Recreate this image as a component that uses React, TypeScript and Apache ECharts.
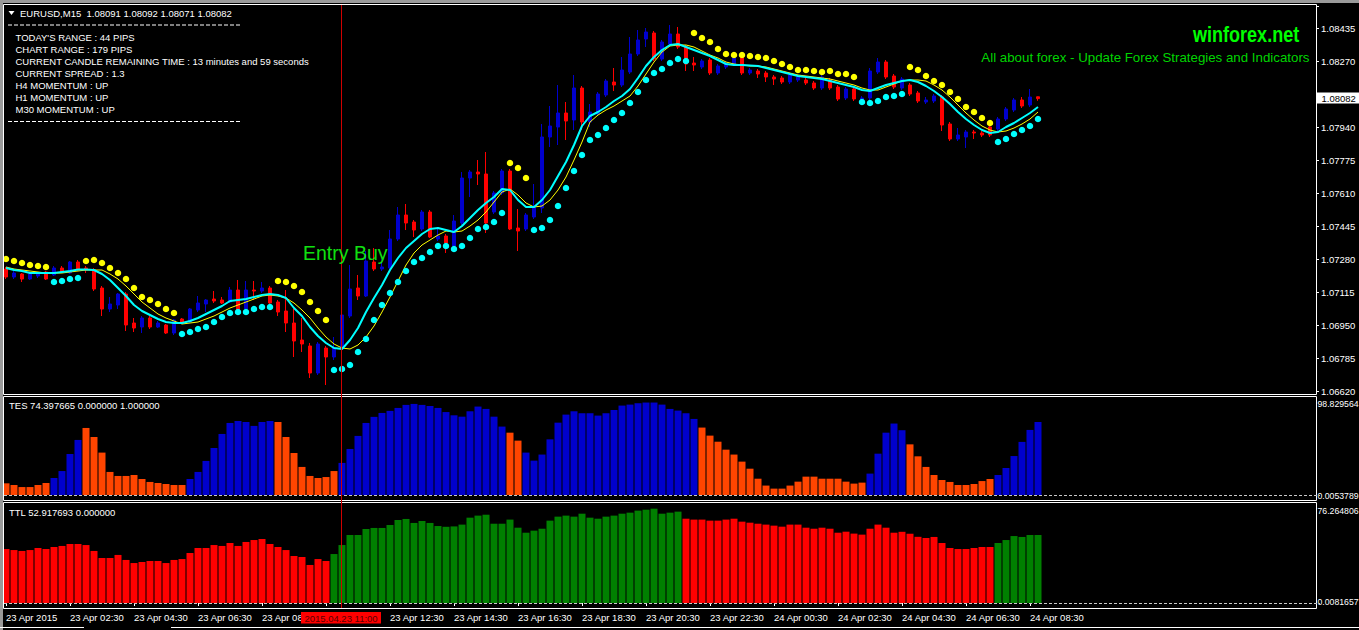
import React, { useEffect, useRef } from 'react';
import * as echarts from 'echarts';

// EURUSD M15, 23 Apr 2015 00:30 -> 24 Apr 2015 08:45 (130 bars)
const openPx = [
  1.07230, 1.07190, 1.07205, 1.07180, 1.07195, 1.07215, 1.07200, 1.07235, 1.07210, 1.07265,
  1.07235, 1.07225, 1.07135, 1.07030, 1.07050, 1.07105, 1.06960, 1.06940, 1.06985, 1.06940,
  1.06950, 1.06910, 1.06980, 1.06965, 1.07025, 1.07055, 1.07080, 1.07075, 1.07065, 1.07125,
  1.07030, 1.07125, 1.07120, 1.07135, 1.07065, 1.07020, 1.06960, 1.06875, 1.06845, 1.06710,
  1.06835, 1.06790, 1.06835, 1.06995, 1.07135, 1.07095, 1.07265, 1.07230, 1.07235, 1.07380,
  1.07500, 1.07465, 1.07430, 1.07515, 1.07380, 1.07395, 1.07345, 1.07460, 1.07685, 1.07715,
  1.07705, 1.07515, 1.07610, 1.07720, 1.07435, 1.07430, 1.07490, 1.07535, 1.07890, 1.07940,
  1.08010, 1.07975, 1.08135, 1.07965, 1.08005, 1.08100, 1.08165, 1.08150, 1.08215, 1.08305,
  1.08380, 1.08410, 1.08280, 1.08355, 1.08405, 1.08340, 1.08260, 1.08240, 1.08275, 1.08210,
  1.08240, 1.08255, 1.08290, 1.08210, 1.08220, 1.08210, 1.08190, 1.08185, 1.08165, 1.08175,
  1.08175, 1.08160, 1.08135, 1.08175, 1.08140, 1.08085, 1.08130, 1.08060, 1.08085, 1.08215,
  1.08265, 1.08195, 1.08135, 1.08150, 1.08110, 1.08065, 1.08070, 1.08090, 1.07955, 1.07880,
  1.07890, 1.07915, 1.07910, 1.07940, 1.07930, 1.07980, 1.08025, 1.08075, 1.08050, 1.08091,
];
const highPx = [
  1.07240, 1.07220, 1.07210, 1.07215, 1.07215, 1.07220, 1.07245, 1.07245, 1.07270, 1.07275,
  1.07245, 1.07235, 1.07145, 1.07090, 1.07110, 1.07115, 1.06985, 1.06995, 1.06995, 1.06970,
  1.06955, 1.06980, 1.06985, 1.07035, 1.07095, 1.07080, 1.07120, 1.07090, 1.07140, 1.07175,
  1.07170, 1.07170, 1.07165, 1.07145, 1.07075, 1.07125, 1.07030, 1.06985, 1.06860, 1.06865,
  1.06845, 1.06890, 1.07010, 1.07250, 1.07200, 1.07320, 1.07335, 1.07290, 1.07425, 1.07540,
  1.07555, 1.07475, 1.07525, 1.07525, 1.07440, 1.07405, 1.07500, 1.07715, 1.07725, 1.07775,
  1.07815, 1.07620, 1.07730, 1.07730, 1.07530, 1.07510, 1.07655, 1.07955, 1.08045, 1.08150,
  1.08065, 1.08200, 1.08145, 1.08055, 1.08115, 1.08180, 1.08235, 1.08290, 1.08390, 1.08425,
  1.08435, 1.08420, 1.08375, 1.08450, 1.08440, 1.08350, 1.08290, 1.08280, 1.08285, 1.08255,
  1.08270, 1.08300, 1.08300, 1.08235, 1.08230, 1.08220, 1.08200, 1.08195, 1.08210, 1.08200,
  1.08185, 1.08170, 1.08200, 1.08185, 1.08150, 1.08140, 1.08140, 1.08095, 1.08235, 1.08285,
  1.08275, 1.08205, 1.08190, 1.08160, 1.08120, 1.08090, 1.08105, 1.08100, 1.07965, 1.07935,
  1.07925, 1.07925, 1.07920, 1.07950, 1.07990, 1.08040, 1.08085, 1.08090, 1.08130, 1.08092,
];
const lowPx = [
  1.07180, 1.07180, 1.07165, 1.07175, 1.07185, 1.07175, 1.07195, 1.07210, 1.07205, 1.07220,
  1.07210, 1.07120, 1.06995, 1.07015, 1.07030, 1.06920, 1.06915, 1.06910, 1.06930, 1.06935,
  1.06905, 1.06900, 1.06955, 1.06960, 1.07015, 1.07015, 1.07060, 1.07055, 1.07060, 1.07020,
  1.07025, 1.07075, 1.07110, 1.07055, 1.06995, 1.06915, 1.06790, 1.06815, 1.06685, 1.06700,
  1.06650, 1.06775, 1.06825, 1.06985, 1.07075, 1.07090, 1.07220, 1.07220, 1.07225, 1.07370,
  1.07425, 1.07390, 1.07420, 1.07385, 1.07370, 1.07310, 1.07335, 1.07450, 1.07590, 1.07650,
  1.07410, 1.07505, 1.07600, 1.07425, 1.07320, 1.07420, 1.07480, 1.07510, 1.07840, 1.07850,
  1.07875, 1.07925, 1.07925, 1.07940, 1.07995, 1.08090, 1.08120, 1.08140, 1.08205, 1.08295,
  1.08340, 1.08270, 1.08270, 1.08345, 1.08330, 1.08220, 1.08220, 1.08230, 1.08200, 1.08200,
  1.08230, 1.08245, 1.08200, 1.08200, 1.08185, 1.08165, 1.08150, 1.08155, 1.08155, 1.08165,
  1.08150, 1.08125, 1.08125, 1.08125, 1.08070, 1.08075, 1.08070, 1.08050, 1.08075, 1.08205,
  1.08180, 1.08130, 1.08125, 1.08095, 1.08060, 1.08055, 1.08060, 1.07920, 1.07870, 1.07870,
  1.07835, 1.07880, 1.07890, 1.07890, 1.07920, 1.07970, 1.08015, 1.08035, 1.08040, 1.08071,
];
const closePx = [
  1.07190, 1.07210, 1.07180, 1.07205, 1.07205, 1.07180, 1.07235, 1.07215, 1.07265, 1.07225,
  1.07225, 1.07130, 1.07030, 1.07055, 1.07105, 1.06950, 1.06935, 1.06985, 1.06940, 1.06960,
  1.06910, 1.06975, 1.06965, 1.07030, 1.07060, 1.07075, 1.07070, 1.07060, 1.07125, 1.07025,
  1.07125, 1.07120, 1.07135, 1.07060, 1.07015, 1.06960, 1.06870, 1.06855, 1.06710, 1.06855,
  1.06790, 1.06835, 1.07000, 1.07130, 1.07095, 1.07270, 1.07230, 1.07240, 1.07380, 1.07500,
  1.07460, 1.07425, 1.07515, 1.07390, 1.07395, 1.07360, 1.07470, 1.07685, 1.07715, 1.07705,
  1.07460, 1.07610, 1.07720, 1.07430, 1.07420, 1.07500, 1.07540, 1.07890, 1.07945, 1.08010,
  1.07970, 1.08135, 1.07965, 1.08015, 1.08105, 1.08170, 1.08150, 1.08225, 1.08305, 1.08375,
  1.08415, 1.08280, 1.08365, 1.08405, 1.08340, 1.08255, 1.08250, 1.08270, 1.08210, 1.08245,
  1.08260, 1.08290, 1.08210, 1.08225, 1.08205, 1.08190, 1.08180, 1.08165, 1.08200, 1.08190,
  1.08160, 1.08135, 1.08190, 1.08135, 1.08080, 1.08130, 1.08080, 1.08085, 1.08220, 1.08265,
  1.08190, 1.08140, 1.08180, 1.08105, 1.08070, 1.08075, 1.08095, 1.07950, 1.07880, 1.07900,
  1.07915, 1.07910, 1.07900, 1.07900, 1.07980, 1.08030, 1.08075, 1.08045, 1.08090, 1.08082,
];

// thick cyan MA and thin yellow MA
const fastMa = [
  1.07235, 1.07225, 1.07220, 1.07210, 1.07210, 1.07210, 1.07210, 1.07215, 1.07220, 1.07228,
  1.07228, 1.07225, 1.07205, 1.07175, 1.07135, 1.07095, 1.07050, 1.07020, 1.07000, 1.06980,
  1.06965, 1.06960, 1.06960, 1.06970, 1.06985, 1.07005, 1.07025, 1.07045, 1.07070, 1.07075,
  1.07080, 1.07090, 1.07100, 1.07105, 1.07100, 1.07085, 1.07035, 1.06995, 1.06940, 1.06895,
  1.06860, 1.06835, 1.06830, 1.06875, 1.06935, 1.07015, 1.07085, 1.07150, 1.07225, 1.07285,
  1.07335, 1.07370, 1.07405, 1.07430, 1.07435, 1.07425, 1.07415, 1.07445, 1.07485, 1.07525,
  1.07560, 1.07590, 1.07630, 1.07625, 1.07575, 1.07540, 1.07540, 1.07575, 1.07625, 1.07695,
  1.07765, 1.07850, 1.07945, 1.07995, 1.08015, 1.08040, 1.08070, 1.08095, 1.08130, 1.08185,
  1.08245, 1.08290, 1.08325, 1.08350, 1.08355, 1.08340, 1.08325, 1.08310, 1.08295, 1.08275,
  1.08255, 1.08250, 1.08250, 1.08248, 1.08245, 1.08235, 1.08225, 1.08215, 1.08205, 1.08195,
  1.08190, 1.08185, 1.08180, 1.08170, 1.08160, 1.08150, 1.08140, 1.08125, 1.08120, 1.08135,
  1.08150, 1.08160, 1.08170, 1.08175, 1.08165, 1.08145, 1.08120, 1.08090, 1.08055, 1.08015,
  1.07980, 1.07950, 1.07925, 1.07910, 1.07915, 1.07940, 1.07960, 1.07985, 1.08010, 1.08040,
];
const slowMa = [
  1.07240, 1.07230, 1.07225, 1.07220, 1.07215, 1.07210, 1.07210, 1.07210, 1.07215, 1.07220,
  1.07225, 1.07225, 1.07225, 1.07205, 1.07180, 1.07145, 1.07105, 1.07065, 1.07035, 1.07005,
  1.06985, 1.06970, 1.06955, 1.06960, 1.06965, 1.06980, 1.06995, 1.07015, 1.07035, 1.07050,
  1.07065, 1.07080, 1.07095, 1.07100, 1.07095, 1.07085, 1.07060, 1.07025, 1.06985, 1.06935,
  1.06890, 1.06855, 1.06835, 1.06830, 1.06850, 1.06890, 1.06945, 1.07015, 1.07090, 1.07170,
  1.07250, 1.07310, 1.07350, 1.07375, 1.07400, 1.07420, 1.07415, 1.07420, 1.07445, 1.07475,
  1.07515, 1.07565, 1.07615, 1.07630, 1.07600, 1.07560, 1.07540, 1.07545, 1.07575, 1.07625,
  1.07690, 1.07775, 1.07865, 1.07965, 1.08000, 1.08025, 1.08045, 1.08070, 1.08095, 1.08145,
  1.08205, 1.08265, 1.08315, 1.08345, 1.08350, 1.08350, 1.08340, 1.08320, 1.08300, 1.08285,
  1.08265, 1.08255, 1.08250, 1.08245, 1.08245, 1.08240, 1.08230, 1.08220, 1.08210, 1.08200,
  1.08195, 1.08190, 1.08185, 1.08180, 1.08170, 1.08160, 1.08150, 1.08135, 1.08125, 1.08125,
  1.08140, 1.08155, 1.08170, 1.08175, 1.08175, 1.08170, 1.08150, 1.08125, 1.08090, 1.08050,
  1.08010, 1.07975, 1.07945, 1.07925, 1.07915, 1.07920, 1.07935, 1.07955, 1.07980, 1.08015,
];

const _ = null;
// yellow dots above price (down trend), cyan dots below price (up trend)
const upperDots = [
  1.07280, 1.07270, 1.07260, 1.07250, 1.07245, 1.07240, _, _, _, _,
  1.07270, 1.07275, 1.07260, 1.07235, 1.07210, 1.07180, 1.07135, 1.07090, 1.07075, 1.07055,
  1.07030, 1.07010, _, _, _, _, _, _, _, _,
  _, _, _, _, 1.07170, 1.07165, 1.07145, 1.07115, 1.07065, 1.07020,
  1.06975, _, _, _, _, _, _, _, _, _,
  _, _, _, _, _, _, _, _, _, _,
  _, _, _, 1.07760, 1.07735, 1.07685, _, _, _, _,
  _, _, _, _, _, _, _, _, _, _,
  _, _, _, _, _, _, 1.08410, 1.08385, 1.08365, 1.08330,
  1.08305, 1.08300, 1.08300, 1.08295, 1.08290, 1.08285, 1.08270, 1.08255, 1.08240, 1.08225,
  1.08225, 1.08220, 1.08215, 1.08220, 1.08205, 1.08205, 1.08190, _, _, _,
  _, _, _, 1.08240, 1.08225, 1.08195, 1.08170, 1.08150, 1.08115, 1.08080,
  1.08040, 1.08015, 1.07985, 1.07960, _, _, _, _, _, _,
];
const lowerDots = [
  _, _, _, _, _, _, 1.07165, 1.07170, 1.07180, 1.07185,
  _, _, _, _, _, _, _, _, _, _,
  _, _, 1.06905, 1.06915, 1.06930, 1.06940, 1.06965, 1.06990, 1.07010, 1.07015,
  1.07015, 1.07030, 1.07040, 1.07040, _, _, _, _, _, _,
  _, 1.06725, 1.06730, 1.06750, 1.06815, 1.06880, 1.06975, 1.07050, 1.07110, 1.07165,
  1.07220, 1.07265, 1.07285, 1.07315, 1.07345, 1.07345, 1.07330, 1.07345, 1.07385, 1.07430,
  1.07440, 1.07465, 1.07510, _, _, _, 1.07425, 1.07435, 1.07475, 1.07545,
  1.07635, 1.07720, 1.07800, 1.07875, 1.07900, 1.07935, 1.07975, 1.08010, 1.08060, 1.08115,
  1.08175, 1.08210, 1.08230, 1.08260, 1.08280, 1.08270, _, _, _, _,
  _, _, _, _, _, _, _, _, _, _,
  _, _, _, _, _, _, _, 1.08065, 1.08060, 1.08070,
  1.08090, 1.08095, 1.08105, _, _, _, _, _, _, _,
  _, _, _, _, 1.07865, 1.07880, 1.07905, 1.07925, 1.07945, 1.07980,
];

const tesValues = [
  11.9, 10.2, 8.1, 8.1, 10.2, 12.2, 17.3, 24.4, 41.8, 56.1,
  68.3, 59.1, 43.2, 23.5, 19.4, 19.4, 20.4, 16.3, 13.3, 12.2,
  11.2, 10.2, 10.2, 16.3, 23.5, 34.7, 47.9, 62.2, 73.4, 75.4,
  74.4, 70.4, 74.4, 75.4, 74.4, 59.1, 42.8, 28.6, 19.4, 17.3,
  18.3, 24.4, 32.7, 46.9, 60.2, 73.4, 79.6, 83.6, 85.7, 88.7,
  91.8, 92.8, 91.8, 90.7, 88.7, 84.5, 81.2, 79.8, 85.3, 90.1,
  87.7, 79.8, 69.7, 63.5, 55.4, 43.2, 35.0, 41.2, 56.7, 73.7,
  81.9, 85.3, 83.3, 83.3, 80.9, 83.3, 86.6, 91.1, 92.1, 93.5,
  94.2, 94.2, 92.1, 87.7, 86.0, 83.3, 77.5, 68.7, 60.5, 54.3,
  46.2, 41.2, 34.0, 26.8, 16.6, 9.6, 6.5, 6.5, 9.6, 13.6,
  18.7, 18.7, 16.6, 16.6, 16.6, 13.6, 11.6, 12.6, 21.8, 42.1,
  63.5, 72.8, 66.0, 51.6, 39.4, 28.6, 20.4, 15.3, 13.3, 10.2,
  10.2, 11.2, 14.2, 16.3, 20.4, 27.5, 39.7, 54.1, 66.3, 74.4,
];
const tesBlueRuns = [[6, 9], [23, 33], [42, 62], [65, 86], [108, 112], [124, 129]];

const ttlValues = [
  42.0, 41.2, 40.5, 41.2, 42.8, 42.0, 43.6, 44.4, 45.9, 45.9,
  45.1, 40.5, 35.0, 35.0, 37.4, 33.5, 31.1, 31.9, 32.7, 32.7,
  31.1, 33.5, 34.2, 38.9, 42.8, 42.8, 45.1, 44.4, 46.7, 44.4,
  47.5, 49.0, 49.8, 45.9, 43.6, 41.2, 36.6, 35.8, 29.6, 34.2,
  32.7, 38.1, 45.1, 52.9, 52.9, 57.6, 58.4, 58.4, 60.7, 64.6,
  65.4, 62.3, 63.8, 62.3, 59.9, 59.3, 59.6, 61.0, 66.4, 68.0,
  68.7, 61.7, 61.7, 64.9, 58.6, 54.7, 56.3, 57.8, 64.1, 67.2,
  68.0, 67.2, 69.5, 66.4, 65.6, 67.2, 68.0, 69.5, 70.3, 71.9,
  72.6, 73.4, 69.5, 70.3, 71.1, 65.6, 64.9, 64.9, 64.1, 64.1,
  64.9, 65.6, 63.3, 62.5, 61.7, 61.0, 60.2, 59.4, 61.0, 61.0,
  58.6, 57.8, 58.6, 57.8, 54.7, 55.5, 54.0, 53.2, 57.8, 61.0,
  58.6, 54.7, 55.4, 53.9, 51.5, 50.6, 51.4, 46.7, 42.8, 42.0,
  42.0, 42.8, 43.6, 43.6, 46.7, 49.0, 52.1, 51.4, 52.9, 52.9,
];
const ttlGreenRuns = [[41, 84], [124, 129]];

// one label every 8 bars (2 hours); the 08:30 label runs under the crosshair
// time box (only "23 Apr 08" shows) and 10:30 is hidden by it entirely
const timeLabels = [
  '23 Apr 2015', '23 Apr 02:30', '23 Apr 04:30', '23 Apr 06:30', '23 Apr 08', '',
  '23 Apr 12:30', '23 Apr 14:30', '23 Apr 16:30', '23 Apr 18:30', '23 Apr 20:30',
  '23 Apr 22:30', '24 Apr 00:30', '24 Apr 02:30', '24 Apr 04:30', '24 Apr 06:30', '24 Apr 08:30',
];

const infoLines = [
  "TODAY'S RANGE : 44 PIPS",
  'CHART RANGE : 179 PIPS',
  'CURRENT CANDLE REMAINING TIME : 13 minutes and 59 seconds',
  'CURRENT SPREAD : 1.3',
  'H4 MOMENTUM : UP',
  'H1 MOMENTUM : UP',
  'M30 MOMENTUM : UP',
];

const SLOTS = 164; // bars + empty right margin, 8px each
const FONT = '"Liberation Sans", Arial, sans-serif';
const BULL = '#0000cd';
const BEAR = '#ff0000';

const inRuns = (i: number, runs: number[][]) => runs.some(([a, b]) => i >= a && i <= b);

const txt = (text: string, x: number, y: number, extra: any = {}, el: any = {}) => ({
  type: 'text',
  x,
  y,
  z: 60,
  silent: true,
  ...el,
  style: {
    text,
    fill: '#ffffff',
    fontSize: 9.5,
    fontFamily: FONT,
    align: 'left',
    verticalAlign: 'middle',
    ...extra,
  },
});

const hline = (x1: number, x2: number, y: number, stroke: string, dash?: number[]) => ({
  type: 'line',
  z: 55,
  silent: true,
  shape: { x1, y1: y, x2, y2: y },
  style: { stroke, lineWidth: 1, lineDash: dash },
});

const frame = (x: number, y: number, w: number, h: number) => ({
  type: 'rect',
  z: 55,
  silent: true,
  shape: { x, y, width: w, height: h },
  style: { fill: 'none', stroke: '#ffffff', lineWidth: 1 },
});

const App: React.FC = () => {
  const chartRef = useRef<HTMLDivElement>(null);

  useEffect(() => {
    if (!chartRef.current) return;
    const chart = echarts.init(chartRef.current, null, { renderer: 'svg' });

    const categories = Array.from({ length: SLOTS }, (_v, i) =>
      i % 8 === 0 && i / 8 < timeLabels.length ? timeLabels[i / 8] : ''
    );
    const isLabelSlot = (i: number) => i % 8 === 0 && i / 8 < timeLabels.length;

    const candles = openPx.map((o, i) => [o, closePx[i], lowPx[i], highPx[i]]);
    const dots = (arr: (number | null)[]) => arr.map((v) => (v == null ? '-' : v));

    const hiddenX = {
      type: 'category' as const,
      data: categories,
      boundaryGap: true,
      show: false,
    };
    const hiddenY = (min: number, max: number) => ({
      type: 'value' as const,
      min,
      max,
      show: false,
      splitLine: { show: false },
    });

    const sideLabel = { fontSize: 8.7 };

    const graphic: any[] = [
      // window chrome
      { type: 'rect', z: 50, silent: true, shape: { x: 0, y: 0, width: 1359, height: 3 }, style: { fill: '#9a9a9a' } },
      { type: 'rect', z: 50, silent: true, shape: { x: 0, y: 0, width: 3, height: 630 }, style: { fill: '#9a9a9a' } },
      // pane frames
      frame(3.5, 4.5, 1313, 390),
      frame(3.5, 396.5, 1313, 104),
      frame(3.5, 502.5, 1313, 106),
      hline(0, 84, 627.5, '#ffffff'),
      hline(171, 1359, 627.5, '#ffffff'),
      // zero levels of the sub windows
      hline(4, 1320, 495.5, '#c8c8c8', [3, 2]),
      hline(4, 1320, 603.5, '#c8c8c8', [3, 2]),
      // crosshair
      {
        type: 'line',
        z: 58,
        silent: true,
        shape: { x1: 341.5, y1: 5, x2: 341.5, y2: 608 },
        style: { stroke: '#d00000', lineWidth: 1 },
      },
      // header
      {
        type: 'polygon',
        z: 60,
        silent: true,
        shape: { points: [[8.5, 11], [14.5, 11], [11.5, 15]] },
        style: { fill: '#ffffff' },
      },
      txt('EURUSD,M15  1.08091 1.08092 1.08071 1.08082', 20, 13),
      hline(8, 240, 25, '#ffffff', [4, 2]),
      ...infoLines.map((s, k) => txt(s, 15.5, 37.5 + k * 12)),
      hline(8, 240, 121.5, '#ffffff', [4, 2]),
      // site captions
      txt(
        'winforex.net',
        1193,
        34,
        { fill: '#00ff00', fontSize: 22, fontWeight: 'bold' },
        { scaleX: 0.82 }
      ),
      txt('All about forex - Update Forex Strategies and Indicators', 1309.5, 57, {
        fill: '#00d400',
        fontSize: 13.3,
        align: 'right',
      }),
      txt('Entry Buy', 303, 252.5, { fill: '#10e010', fontSize: 19.5 }),
      // sub window captions
      txt('TES 74.397665 0.000000 1.000000', 9, 405.5),
      txt('TTL 52.917693 0.000000', 9, 512.5),
      txt('98.829564', 1317.5, 404, sideLabel),
      txt('0.0053789', 1317.5, 495.5, sideLabel),
      txt('76.264806', 1317.5, 511, sideLabel),
      txt('0.0081657', 1317.5, 602, sideLabel),
      // bid price marker
      { type: 'rect', z: 59, silent: true, shape: { x: 1317, y: 92.5, width: 42, height: 11 }, style: { fill: '#ffffff' } },
      txt('1.08082', 1321.5, 98, { fill: '#000000' }, { z: 61 }),
      // crosshair time box
      { type: 'rect', z: 59, silent: true, shape: { x: 301, y: 612, width: 80, height: 11.5 }, style: { fill: '#ff0000' } },
      txt('2015.04.23 11:00', 341, 618, { fill: '#5a0000', align: 'center' }, { z: 61 }),
    ];

    const option: any = {
      animation: false,
      backgroundColor: '#000000',
      grid: [
        { left: 2, top: 6, width: 1312, height: 385 },
        { left: 2, top: 398, width: 1312, height: 97 },
        { left: 2, top: 505, width: 1312, height: 98 },
      ],
      xAxis: [
        { ...hiddenX, gridIndex: 0 },
        { ...hiddenX, gridIndex: 1 },
        {
          type: 'category',
          gridIndex: 2,
          data: categories,
          boundaryGap: true,
          position: 'bottom',
          offset: 5.5,
          axisLine: { show: false },
          axisTick: {
            show: true,
            alignWithLabel: true,
            interval: (i: number) => i % 8 === 0 && i <= 128,
            length: 3,
            lineStyle: { color: '#ffffff' },
          },
          axisLabel: {
            interval: (i: number) => isLabelSlot(i),
            color: '#ffffff',
            fontSize: 9.5,
            fontFamily: FONT,
            align: 'left',
            margin: 4,
          },
          splitLine: { show: false },
        },
      ],
      yAxis: [
        {
          type: 'value',
          gridIndex: 0,
          position: 'right',
          offset: 2,
          min: 1.0662,
          max: 1.08545,
          interval: 0.00165,
          axisLine: { show: false },
          axisTick: { show: true, length: 3, lineStyle: { color: '#ffffff' } },
          splitLine: { show: false },
          axisLabel: {
            color: '#ffffff',
            fontSize: 9.5,
            fontFamily: FONT,
            margin: 5,
            // 1.08105 is covered by the bid price marker
            formatter: (v: number) =>
              v > 1.085 || Math.abs(v - 1.08105) < 1e-6 ? '' : v.toFixed(5),
          },
        },
        { ...hiddenY(0, 98.829564), gridIndex: 1 },
        { ...hiddenY(0, 76.264806), gridIndex: 2 },
      ],
      series: [
        {
          type: 'candlestick',
          xAxisIndex: 0,
          yAxisIndex: 0,
          barWidth: 4,
          z: 2,
          data: candles,
          itemStyle: {
            color: BULL,
            color0: BEAR,
            borderColor: BULL,
            borderColor0: BEAR,
            borderWidth: 1,
          },
        },
        {
          type: 'line',
          xAxisIndex: 0,
          yAxisIndex: 0,
          z: 3,
          data: slowMa,
          symbol: 'none',
          lineStyle: { color: '#ffff00', width: 1 },
        },
        {
          type: 'line',
          xAxisIndex: 0,
          yAxisIndex: 0,
          z: 4,
          data: fastMa,
          symbol: 'none',
          lineStyle: { color: '#00ffff', width: 2 },
        },
        {
          type: 'scatter',
          xAxisIndex: 0,
          yAxisIndex: 0,
          z: 5,
          symbolSize: 6.5,
          data: dots(upperDots),
          itemStyle: { color: '#ffff00', opacity: 1 },
        },
        {
          type: 'scatter',
          xAxisIndex: 0,
          yAxisIndex: 0,
          z: 5,
          symbolSize: 6.5,
          data: dots(lowerDots),
          itemStyle: { color: '#00ffff', opacity: 1 },
        },
        {
          type: 'bar',
          xAxisIndex: 1,
          yAxisIndex: 1,
          barWidth: 7,
          data: tesValues.map((v, i) => ({
            value: v,
            itemStyle: { color: inRuns(i, tesBlueRuns) ? BULL : '#ff4500' },
          })),
        },
        {
          type: 'bar',
          xAxisIndex: 2,
          yAxisIndex: 2,
          barWidth: 7,
          data: ttlValues.map((v, i) => ({
            value: v,
            itemStyle: { color: inRuns(i, ttlGreenRuns) ? '#008000' : '#ff0000' },
          })),
        },
      ],
      graphic,
    };

    chart.setOption(option);

    return () => {
      chart.dispose();
    };
  }, []);

  return (
    <div
      ref={chartRef}
      style={{ position: 'fixed', left: 0, top: 0, width: 1359, height: 630, background: '#000' }}
    />
  );
};

export default App;
